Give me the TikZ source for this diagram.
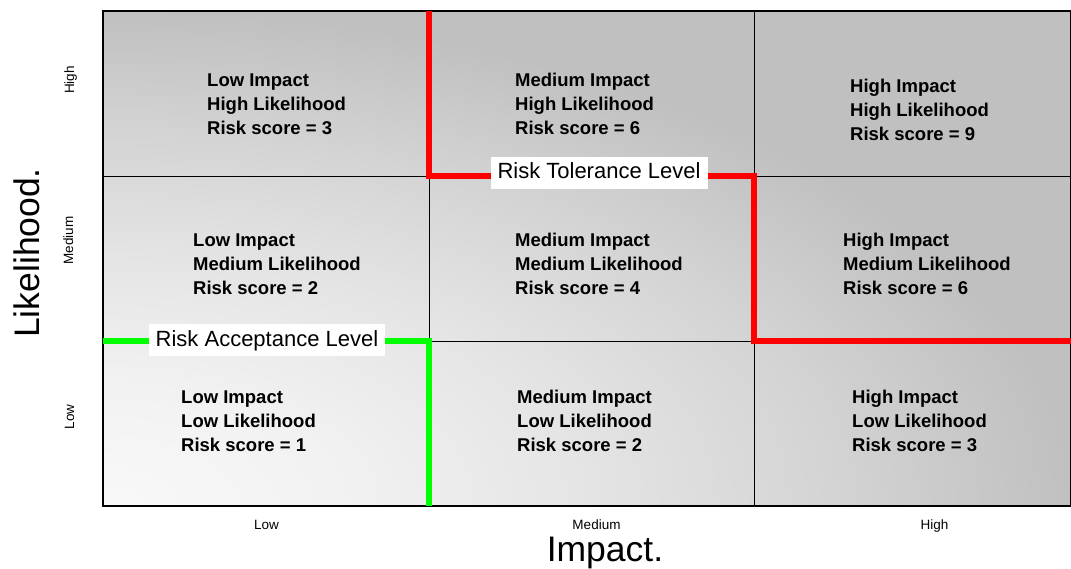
\documentclass[tikz,border=0pt]{standalone}
\usepackage{fontspec}
\setmainfont{Liberation Sans}
\definecolor{tolred}{RGB}{255,0,0}
\definecolor{accgreen}{RGB}{0,255,0}
\definecolor{cellgray}{RGB}{192,192,192}
% light corner fading out towards the high-risk corner
\pgfdeclareradialshading{riskglow}{\pgfpointorigin}{%
  rgb(0bp)=(0.975,0.975,0.975);
  rgb(6.25bp)=(0.947,0.947,0.947);
  rgb(12.5bp)=(0.896,0.896,0.896);
  rgb(18.75bp)=(0.831,0.831,0.831);
  rgb(25bp)=(0.753,0.753,0.753);
  rgb(50bp)=(0.753,0.753,0.753)}
\begin{document}
\begin{tikzpicture}[x=1pt,y=1pt,
  cell/.style={anchor=base west, inner sep=0pt, font=\fontsize{18.5}{24}\selectfont\bfseries},
  tick/.style={anchor=base, inner sep=0pt, font=\fontsize{13.5}{16}\selectfont},
  axistitle/.style={anchor=base, inner sep=0pt, font=\fontsize{35.5}{40}\selectfont},
  levelbox/.style={fill=white, inner xsep=7pt, inner ysep=0pt, minimum height=32pt,
    text height=16pt, text depth=4.5pt, font=\fontsize{22}{26}\selectfont},
  gridline/.style={draw=black, line width=0.8pt},
  frame/.style={draw=black, line width=1.2pt},
  tolerance/.style={draw=tolred, line width=6.5pt},
  acceptance/.style={draw=accgreen, line width=6.5pt}
]
\useasboundingbox (0,0) rectangle (1071,569);

% grid corners
\coordinate (g00) at (103,63);
\coordinate (g11) at (1070.4,558);

% shaded background of the matrix
\begin{scope}
  \clip (g00) rectangle (g11);
  \fill[cellgray] (g00) rectangle (g11);
  \shade[shading=riskglow] (g00) ellipse [x radius=968, y radius=495];
\end{scope}

% inner grid lines
\coordinate (c1b) at (429,63);  \coordinate (c1t) at (429,558);
\coordinate (c2b) at (754,63);  \coordinate (c2t) at (754,558);
\coordinate (r1l) at (103,393); \coordinate (r1r) at (1070.4,393);
\coordinate (r2l) at (103,228); \coordinate (r2r) at (1070.4,228);
\draw[gridline] (c1b) -- (c1t);
\draw[gridline] (c2b) -- (c2t);
\draw[gridline] (r1l) -- (r1r);
\draw[gridline] (r2l) -- (r2r);
\draw[frame] (g00) rectangle (g11);

% cell texts
\node[cell] (lh) at (207,482.5) {\begin{tabular}[t]{@{}l@{}}Low Impact\\High Likelihood\\Risk score = 3\end{tabular}};
\node[cell] (mh) at (515,482.5) {\begin{tabular}[t]{@{}l@{}}Medium Impact\\High Likelihood\\Risk score = 6\end{tabular}};
\node[cell] (hh) at (850,476.3) {\begin{tabular}[t]{@{}l@{}}High Impact\\High Likelihood\\Risk score = 9\end{tabular}};
\node[cell] (lm) at (193,322.5) {\begin{tabular}[t]{@{}l@{}}Low Impact\\Medium Likelihood\\Risk score = 2\end{tabular}};
\node[cell] (mm) at (515,322.5) {\begin{tabular}[t]{@{}l@{}}Medium Impact\\Medium Likelihood\\Risk score = 4\end{tabular}};
\node[cell] (hm) at (843,322.5) {\begin{tabular}[t]{@{}l@{}}High Impact\\Medium Likelihood\\Risk score = 6\end{tabular}};
\node[cell] (ll) at (181,165.5) {\begin{tabular}[t]{@{}l@{}}Low Impact\\Low Likelihood\\Risk score = 1\end{tabular}};
\node[cell] (ml) at (517,165.5) {\begin{tabular}[t]{@{}l@{}}Medium Impact\\Low Likelihood\\Risk score = 2\end{tabular}};
\node[cell] (hl) at (852,165.5) {\begin{tabular}[t]{@{}l@{}}High Impact\\Low Likelihood\\Risk score = 3\end{tabular}};

% risk tolerance boundary
\coordinate (t0) at (429,558);
\coordinate (t1) at (429,393);
\coordinate (t2) at (754,393);
\coordinate (t3) at (754,228);
\coordinate (t4) at (1071,228);
\draw[tolerance] (t0) -- (t1) -- (t2) -- (t3) -- (t4);

% risk acceptance boundary
\coordinate (a0) at (103,228);
\coordinate (a1) at (429,228);
\coordinate (a2) at (429,63);
\draw[acceptance] (a0) -- (a1) -- (a2);

% boundary labels
\node[levelbox] (tol) at (599,396) {Risk Tolerance Level};
\node[levelbox] (acc) at (267,228.5) {Risk Acceptance Level};

% axis ticks
\node[tick] (xlow) at (266.5,39) {Low};
\node[tick] (xmed) at (596.5,39) {Medium};
\node[tick] (xhigh) at (934.5,39) {High};
\node[tick, rotate=90] (ylow) at (74,152) {Low};
\node[tick, rotate=90] (ymed) at (73,328.5) {Medium};
\node[tick, rotate=90] (yhigh) at (74,489) {High};

% axis titles
\node[axistitle] (ximpact) at (605,7.5) {Impact.};
\node[axistitle, rotate=90] (ylike) at (39,316) {Likelihood.};
\end{tikzpicture}
\end{document}
